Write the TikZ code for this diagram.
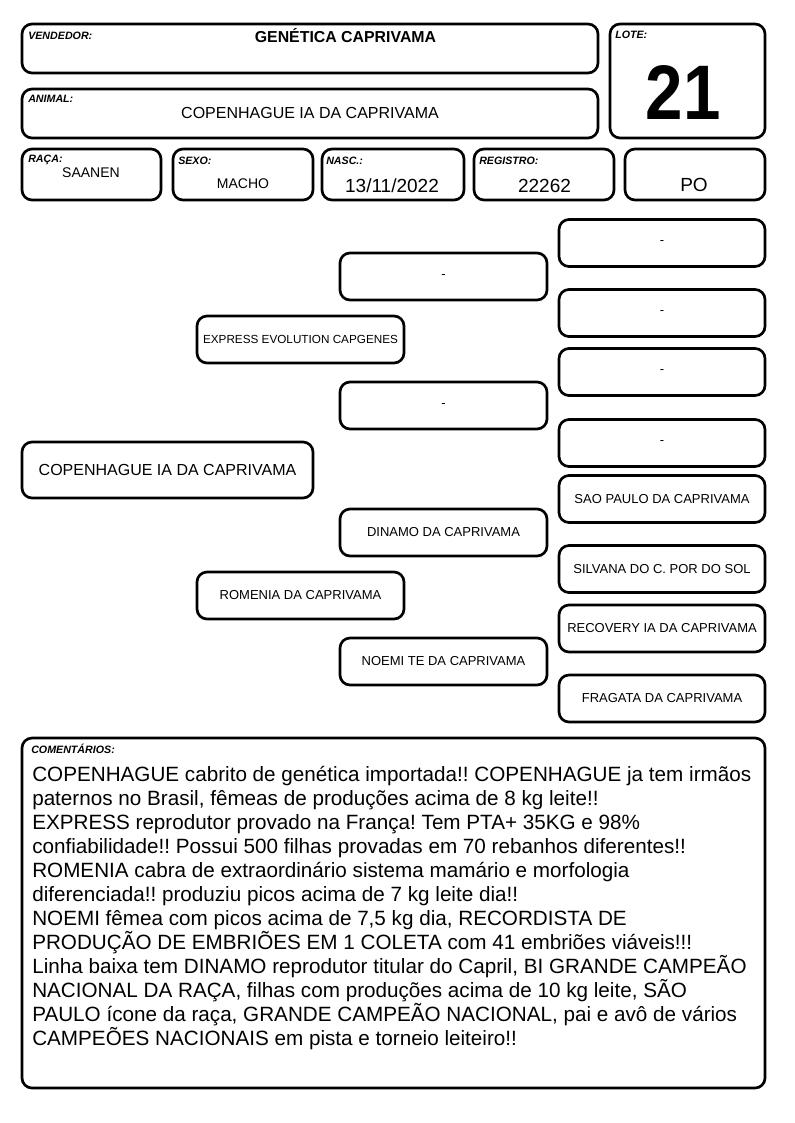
\documentclass[tikz,border=0pt]{standalone}
\usepackage{fontspec}
\setmainfont{Liberation Sans}
\frenchspacing
\begin{document}
\begin{tikzpicture}[x=0.75pt,y=-0.75pt,
  caixa/.style={draw,line width=2pt,rounded corners=7.5pt,inner sep=0pt,minimum width=155.25pt,minimum height=35.25pt,font=\fontsize{9.75}{11}\selectfont},
  rotulo/.style={anchor=base west,inner sep=0pt,font=\fontsize{8}{9}\selectfont\bfseries\itshape},
  valor/.style={anchor=base,inner sep=0pt}]
\useasboundingbox (0,0) rectangle (794,1123);
\node[caixa,minimum width=432pt,minimum height=36.75pt] (vendedor) at (310,48.5) {};
\node[caixa,minimum width=116.25pt,minimum height=85.5pt] (lote) at (687.5,81) {};
\node[caixa,minimum width=432pt,minimum height=36.75pt] (animal) at (310,113.5) {};
\node[caixa,minimum width=104.25pt,minimum height=38.25pt] (raca) at (91.5,174.5) {};
\node[caixa,minimum width=105pt,minimum height=38.25pt] (sexo) at (243,174.5) {};
\node[caixa,minimum width=106.5pt,minimum height=38.25pt] (nasc) at (393,174.5) {};
\node[caixa,minimum width=105pt,minimum height=38.25pt] (registro) at (544,174.5) {};
\node[caixa,minimum width=105pt,minimum height=38.25pt] (po) at (695,174.5) {};
\node[rotulo] (vendedor-rot) at (28,40) {VENDEDOR:};
\node[rotulo] (lote-rot) at (615,39) {LOTE:};
\node[rotulo] (animal-rot) at (28,103) {ANIMAL:};
\node[rotulo] (raca-rot) at (28,163) {RAÇA:};
\node[rotulo] (sexo-rot) at (178,165) {SEXO:};
\node[rotulo] (nasc-rot) at (326,165) {NASC.:};
\node[rotulo] (registro-rot) at (479,165) {REGISTRO:};
\node[valor,font=\fontsize{11.9}{14}\selectfont\bfseries] (vendedor-val) at (345.5,43) {GENÉTICA CAPRIVAMA};
\node[valor,font=\fontsize{58}{60}\selectfont\bfseries] (lote-val) at (683,120) {\scalebox{0.87}[1]{21}};
\node[valor,font=\fontsize{12}{14}\selectfont] (animal-val) at (310,119) {COPENHAGUE IA DA CAPRIVAMA};
\node[valor,font=\fontsize{10.5}{12}\selectfont] (raca-val) at (91,178) {SAANEN};
\node[valor,font=\fontsize{10.5}{12}\selectfont] (sexo-val) at (243,189) {MACHO};
\node[valor,font=\fontsize{14.25}{16}\selectfont] (nasc-val) at (392,193) {13/11/2022};
\node[valor,font=\fontsize{14.25}{16}\selectfont] (registro-val) at (544.5,193) {22262};
\node[valor,font=\fontsize{14.25}{16}\selectfont] (po-val) at (694,192) {PO};
\node[caixa,minimum width=218.25pt,minimum height=42pt,font=\fontsize{12}{14}\selectfont] (animal-ped) at (167.5,470) {COPENHAGUE IA DA CAPRIVAMA};
\node[caixa,font=\fontsize{8.8}{10}\selectfont] (pai) at (300.5,339.5) {EXPRESS EVOLUTION CAPGENES};
\node[caixa] (mae) at (300.5,595.5) {ROMENIA DA CAPRIVAMA};
\node[caixa] (avo-pp) at (443.5,276.5) {-};
\node[caixa] (avo-pm) at (443.5,405.5) {-};
\node[caixa] (avo-mp) at (443.5,532.5) {DINAMO DA CAPRIVAMA};
\node[caixa] (avo-mm) at (443.5,661.5) {NOEMI TE DA CAPRIVAMA};
\node[caixa,minimum width=154.5pt] (bis-1) at (662,243) {-};
\node[caixa,minimum width=154.5pt] (bis-2) at (662,313) {-};
\node[caixa,minimum width=154.5pt] (bis-3) at (662,372) {-};
\node[caixa,minimum width=154.5pt] (bis-4) at (662,443) {-};
\node[caixa,minimum width=154.5pt] (bis-5) at (662,499) {SAO PAULO DA CAPRIVAMA};
\node[caixa,minimum width=154.5pt] (bis-6) at (662,569) {SILVANA DO C. POR DO SOL};
\node[caixa,minimum width=154.5pt] (bis-7) at (662,628.5) {RECOVERY IA DA CAPRIVAMA};
\node[caixa,minimum width=154.5pt] (bis-8) at (662,698.5) {FRAGATA DA CAPRIVAMA};
\node[caixa,minimum width=557.25pt,minimum height=262.5pt] (comentarios) at (393.5,913) {};
\node[rotulo] (comentarios-rot) at (31,753.5) {COMENTÁRIOS:};
\node[anchor=north west,inner sep=0pt,align=left,font=\fontsize{15.5}{18}\selectfont] (comentarios-txt) at (32,766) {COPENHAGUE cabrito de genética importada!! COPENHAGUE ja tem irmãos\\
paternos no Brasil, fêmeas de produções acima de 8 kg leite!!\\
EXPRESS reprodutor provado na França! Tem PTA+ 35KG e 98\%\\
confiabilidade!! Possui 500 filhas provadas em 70 rebanhos diferentes!!\\
ROMENIA cabra de extraordinário sistema mamário e morfologia\\
diferenciada!! produziu picos acima de 7 kg leite dia!!\\
NOEMI fêmea com picos acima de 7,5 kg dia, RECORDISTA DE\\
PRODUÇÃO DE EMBRIÕES EM 1 COLETA com 41 embriões viáveis!!!\\
Linha baixa tem DINAMO reprodutor titular do Capril, BI GRANDE CAMPEÃO\\
NACIONAL DA RAÇA, filhas com produções acima de 10 kg leite, SÃO\\
PAULO ícone da raça, GRANDE CAMPEÃO NACIONAL, pai e avô de vários\\
CAMPEÕES NACIONAIS em pista e torneio leiteiro!!};
\end{tikzpicture}
\end{document}
